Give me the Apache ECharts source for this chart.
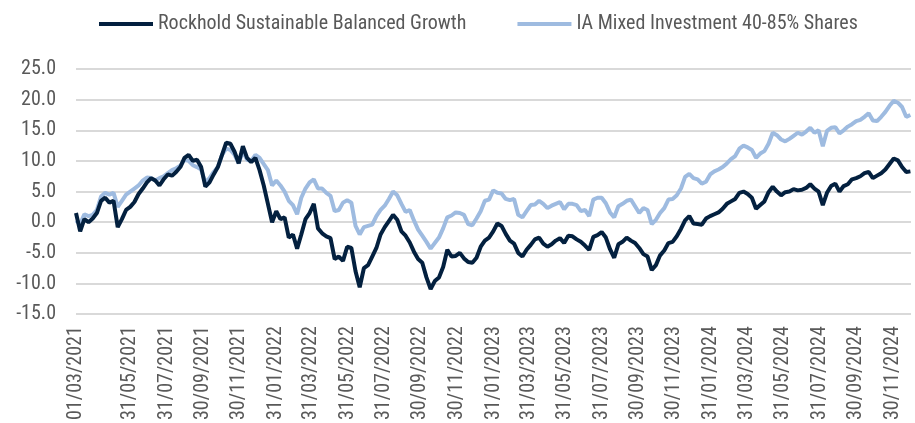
<!DOCTYPE html>
<html>
<head>
<meta charset="utf-8">
<script src="https://cdn.jsdelivr.net/npm/echarts@6/dist/echarts.min.js"></script>
<style>
  html, body { margin: 0; padding: 0; background: #fff; }
  #chart { width: 915px; height: 423px; }
</style>
</head>
<body>
<div id="chart"></div>
<script>
// weekly samples, first one on 01/03/2021
const startDate = '2021-03-01'
const stepDays = 7

const rockhold = [
  1.5, -1.5, 0.5, 0.0, 0.6, 1.5, 3.5, 4.0, 3.2, 3.5,
  -0.8, 0.5, 2.0, 2.5, 3.3, 4.6, 5.5, 6.5, 7.2, 6.8,
  6.0, 7.0, 7.8, 7.6, 8.2, 9.0, 10.5, 11.0, 10.0, 10.2,
  9.0, 5.8, 6.5, 7.8, 9.0, 11.0, 13.0, 12.8, 11.5, 9.6,
  12.4, 10.5, 9.8, 10.5, 8.5, 6.0, 3.0, 0.0, 1.8, 0.5,
  0.8, -2.5, -2.0, -4.3, -2.0, 0.5, 1.5, 3.0, -1.0,
  -1.8, -2.3, -2.6, -6.0, -5.6, -6.3, -4.0, -4.2, -8.0, -10.6,
  -7.5, -7.0, -5.6, -4.2, -2.0, -0.8, 0.2, 1.2, 0.4, -1.5,
  -2.2, -3.3, -4.8, -6.0, -6.6, -9.0, -10.9, -9.6, -9.0, -7.3,
  -4.5, -5.6, -5.5, -5.0, -5.9, -6.5, -6.6, -5.8, -4.0, -3.0,
  -2.5, -1.5, -0.2, -0.6, -1.9, -3.0, -3.5, -5.0, -5.6, -4.5,
  -3.7, -2.8, -2.5, -3.5, -4.0, -3.6, -3.0, -2.6, -3.4, -2.2,
  -2.3, -2.8, -3.2, -3.8, -4.5, -2.4, -2.1,
  -1.6, -2.5, -4.4, -5.8, -3.6, -3.2, -2.5, -3.0, -3.4, -4.2,
  -5.2, -5.6, -7.8, -7.0, -5.4, -4.6, -3.4, -3.2, -2.3, -1.1,
  0.3, 1.0, -0.2, -0.3, -0.4, 0.6, 1.0, 1.3, 1.6, 2.2,
  3.0, 3.4, 3.8, 4.8, 5.0, 4.6, 4.0, 2.2, 2.8, 3.4,
  4.9, 5.8, 5.0, 4.4, 4.9, 5.0, 5.4, 5.2, 5.3, 5.6,
  6.2, 5.5, 5.0, 2.8, 4.8, 5.9, 6.3, 5.0, 5.9, 6.2,
  7.0, 7.2, 7.5, 8.0, 8.2, 7.2, 7.6, 8.0, 8.6, 9.5,
  10.4, 10.1, 9.0, 8.2, 8.3
]

const iaMixed = [
  0.3, -0.3, 1.3, 1.0, 1.2, 2.0, 4.2, 4.8, 4.5, 4.8,
  2.5, 3.5, 4.5, 5.0, 5.5, 6.0, 6.8, 7.3, 7.2, 6.8,
  7.2, 7.5, 8.0, 8.5, 8.8, 9.2, 10.2, 10.0, 9.3, 9.0,
  8.6, 6.5, 7.2, 8.2, 9.0, 11.0, 12.0, 11.8, 11.0, 9.6,
  11.6, 10.2, 10.0, 11.0, 10.5, 9.5, 8.5, 6.0, 6.8, 6.0,
  5.0, 3.5, 2.8, 1.3, 4.0, 5.5, 6.5, 7.0, 5.5,
  5.5, 4.8, 4.3, 1.8, 2.0, 3.2, 3.6, 3.2, -0.6, -2.0,
  -0.8, -0.6, -0.4, 1.0, 2.0, 2.7, 3.8, 5.0, 4.4, 3.0,
  1.7, 2.0, 0.3, -1.2, -2.2, -3.2, -4.3, -3.4, -2.5, -1.0,
  0.8, 1.1, 1.6, 1.5, 1.2, -0.3, -0.5, 0.6, 1.8, 3.5,
  3.7, 5.2, 4.8, 4.7, 3.8, 3.6, 3.8, 1.2, 0.8, 1.8,
  2.8, 2.9, 3.5, 3.0, 2.3, 2.7, 3.0, 3.3, 2.1, 3.0,
  3.0, 2.8, 1.8, 2.0, 1.0, 3.7, 4.0,
  4.0, 3.1, 1.6, 0.8, 2.6, 3.0, 3.5, 3.7, 2.6, 1.5,
  2.3, 2.0, -0.3, 0.4, 1.5, 2.3, 3.7, 3.8, 4.4, 5.5,
  7.4, 7.9, 7.2, 7.0, 6.3, 6.6, 7.8, 8.3, 8.6, 9.0,
  9.6, 10.3, 10.8, 12.0, 12.5, 12.2, 11.8, 10.5, 11.2, 11.6,
  12.8, 14.6, 14.2, 13.5, 13.2, 13.6, 14.1, 14.6, 14.3, 14.8,
  15.4, 14.6, 15.0, 12.4, 14.9, 15.4, 15.5, 14.5, 15.0, 15.6,
  16.0, 16.5, 16.7, 17.2, 17.8, 16.6, 16.5, 17.2, 18.0, 19.0,
  19.8, 19.5, 18.8, 17.2, 17.5
]

const tickDates = [
  '2021-03-01', '2021-05-31', '2021-07-31', '2021-09-30', '2021-11-30',
  '2022-01-31', '2022-03-31', '2022-05-31', '2022-07-31', '2022-09-30', '2022-11-30',
  '2023-01-31', '2023-03-31', '2023-05-31', '2023-07-31', '2023-09-30', '2023-11-30',
  '2024-01-31', '2024-03-31', '2024-05-31', '2024-07-31', '2024-09-30', '2024-11-30'
]
const endDate = '2024-12-31'

const seriesNames = ['Rockhold Sustainable Balanced Growth', 'IA Mixed Investment 40-85% Shares']

// the original uses a narrow face; Roboto Condensed is the closest one installed
const FONT = "'Roboto Condensed', 'Liberation Sans Narrow', 'Arial Narrow', sans-serif"
const TEXT = '#595959'

function toTime (s) {
  return new Date(s + 'T00:00:00').getTime()
}

const t0 = toTime(startDate)
const DAY = 24 * 3600 * 1000
const withDates = vals => vals.map((v, i) => [t0 + i * stepDays * DAY, v])

function fmtDate (t) {
  const d = new Date(t)
  const dd = String(d.getDate()).padStart(2, '0')
  const mm = String(d.getMonth() + 1).padStart(2, '0')
  return dd + '/' + mm + '/' + d.getFullYear()
}

const chart = echarts.init(document.getElementById('chart'))
chart.setOption({
  animation: false,
  textStyle: { fontFamily: FONT },
  legend: {
    data: seriesNames,
    top: 9,
    left: 94,
    icon: 'rect',
    itemWidth: 54,
    itemHeight: 4,
    itemGap: 51,
    textStyle: { fontFamily: FONT, fontSize: 20, color: TEXT }
  },
  grid: { left: 76, right: 4, top: 69, bottom: 100, containLabel: false },
  xAxis: {
    // plain value axis holding timestamps, so the date labels can be placed by hand
    type: 'value',
    min: toTime(startDate),
    max: toTime(endDate),
    axisLine: { show: false },
    axisTick: { show: false },
    splitLine: { show: false },
    axisLabel: {
      customValues: tickDates.map(toTime),
      rotate: 90,
      margin: 12,
      fontFamily: FONT,
      fontSize: 20,
      color: TEXT,
      formatter: v => fmtDate(v)
    }
  },
  yAxis: {
    type: 'value',
    min: -15,
    max: 25,
    interval: 5,
    axisLine: { show: false },
    axisTick: { show: false },
    splitLine: { lineStyle: { color: '#d9d9d9', width: 2 } },
    axisLabel: {
      margin: 20,
      fontFamily: FONT,
      fontSize: 20,
      color: TEXT,
      formatter: v => v.toFixed(1)
    }
  },
  series: [
    {
      name: seriesNames[0],
      type: 'line',
      z: 3,
      data: withDates(rockhold),
      showSymbol: false,
      color: '#03203f',
      lineStyle: { width: 4, color: '#03203f' }
    },
    {
      name: seriesNames[1],
      type: 'line',
      z: 2,
      data: withDates(iaMixed),
      showSymbol: false,
      color: '#9ebbe0',
      lineStyle: { width: 4, color: '#9ebbe0' }
    }
  ]
})
</script>
</body>
</html>
